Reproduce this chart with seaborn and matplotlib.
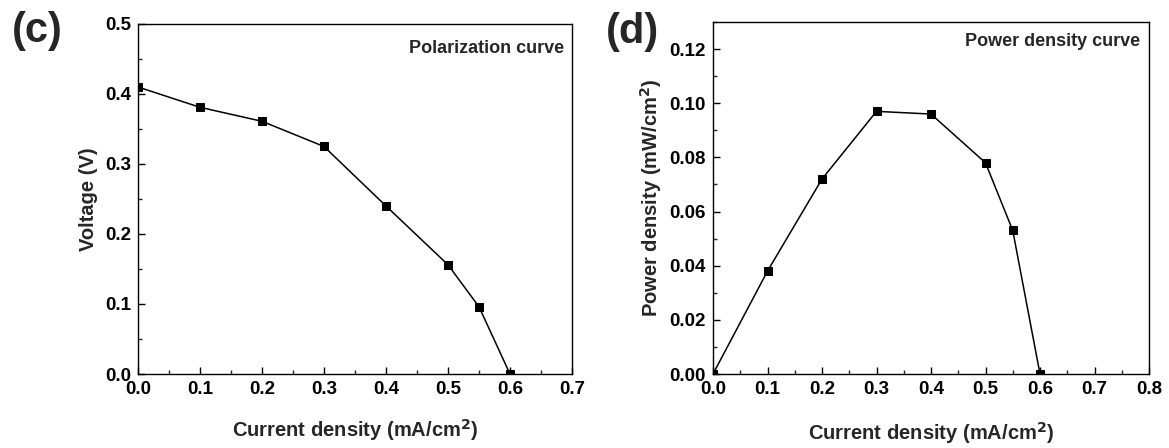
import numpy as np
import pandas as pd
import seaborn as sns
import matplotlib.pyplot as plt
from matplotlib.ticker import MultipleLocator

# Data
current_v = [0.0, 0.1, 0.2, 0.3, 0.4, 0.5, 0.55, 0.6]
voltage = [0.41, 0.381, 0.361, 0.325, 0.240, 0.156, 0.096, 0.0]

current_p = [0.0, 0.1, 0.2, 0.3, 0.4, 0.5, 0.55, 0.6]
power = [0.0, 0.038, 0.072, 0.097, 0.096, 0.078, 0.053, 0.0]

sns.set_theme(style='ticks')
plt.rcParams['font.family'] = ['Liberation Sans', 'DejaVu Sans']
plt.rcParams['font.weight'] = 'bold'
plt.rcParams['axes.labelweight'] = 'bold'
plt.rcParams['mathtext.default'] = 'regular'

fig = plt.figure(figsize=(11.69, 4.48), dpi=100)
ax1 = fig.add_axes([138 / 1169, 74 / 448, 434 / 1169, 350 / 448])
ax2 = fig.add_axes([713 / 1169, 74 / 448, 436 / 1169, 352 / 448])

df1 = pd.DataFrame({'x': current_v, 'y': voltage})
df2 = pd.DataFrame({'x': current_p, 'y': power})

for ax, df in [(ax1, df1), (ax2, df2)]:
    sns.lineplot(data=df, x='x', y='y', ax=ax, color='black', linewidth=1.1,
                 marker='s', markersize=5.5, markeredgecolor='black', sort=False)
    for s in ax.spines.values():
        s.set_linewidth(1.0)
        s.set_color('black')
    ax.tick_params(which='major', direction='in', length=5, width=1.0,
                   labelsize=13.5, pad=5, colors='black')
    ax.tick_params(which='minor', direction='in', length=3, width=1.0)
    for lbl in ax.get_xticklabels() + ax.get_yticklabels():
        lbl.set_fontweight('bold')

# Panel (c)
ax1.set_xlim(0, 0.7)
ax1.set_ylim(0, 0.5)
ax1.xaxis.set_major_locator(MultipleLocator(0.1))
ax1.xaxis.set_minor_locator(MultipleLocator(0.05))
ax1.yaxis.set_major_locator(MultipleLocator(0.1))
ax1.yaxis.set_minor_locator(MultipleLocator(0.05))
ax1.xaxis.set_major_formatter(plt.FormatStrFormatter('%.1f'))
ax1.yaxis.set_major_formatter(plt.FormatStrFormatter('%.1f'))
ax1.set_xlabel('Current density (mA/cm$^{\\mathbf{2}}$)', fontsize=14.5, fontweight='bold', labelpad=14)
ax1.set_ylabel('Voltage (V)', fontsize=14.5, fontweight='bold', labelpad=5)
ax1.text(0.982, 0.955, 'Polarization curve', transform=ax1.transAxes, ha='right', va='top',
         fontsize=13, fontweight='bold')

# Panel (d)
ax2.set_xlim(0, 0.8)
ax2.set_ylim(0, 0.13)
ax2.xaxis.set_major_locator(MultipleLocator(0.1))
ax2.xaxis.set_minor_locator(MultipleLocator(0.05))
ax2.yaxis.set_major_locator(MultipleLocator(0.02))
ax2.yaxis.set_minor_locator(MultipleLocator(0.01))
ax2.xaxis.set_major_formatter(plt.FormatStrFormatter('%.1f'))
ax2.yaxis.set_major_formatter(plt.FormatStrFormatter('%.2f'))
ax2.set_xlabel('Current density (mA/cm$^{\\mathbf{2}}$)', fontsize=14.5, fontweight='bold', labelpad=16)
ax2.set_ylabel('Power density (mW/cm$^{\\mathbf{2}}$)', fontsize=14.5, fontweight='bold', labelpad=4)
ax2.text(0.98, 0.97, 'Power density curve', transform=ax2.transAxes, ha='right', va='top',
         fontsize=13, fontweight='bold')

fig.text(37 / 1169, 1 - 31 / 448, '(c)', fontsize=30, fontweight='bold', va='center', ha='center')
fig.text(632 / 1169, 1 - 32 / 448, '(d)', fontsize=30, fontweight='bold', va='center', ha='center')

fig.savefig('out.png', dpi=100)
